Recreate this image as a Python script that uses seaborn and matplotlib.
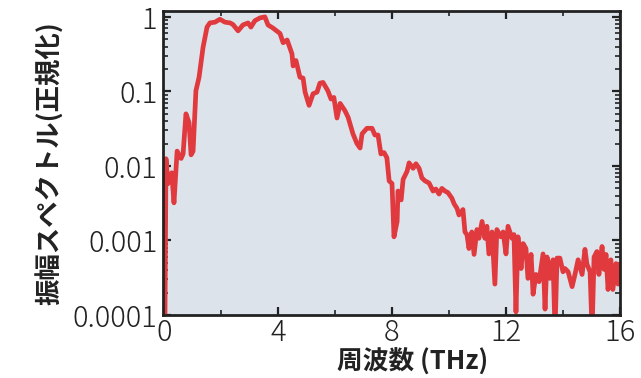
import matplotlib
matplotlib.use("Agg")
import matplotlib.pyplot as plt
import matplotlib.ticker as mticker
import numpy as np
import pandas as pd
import seaborn as sns

# frequency (THz) and normalised amplitude
freq_thz = [
    0.03, 0.07, 0.14, 0.27, 0.35, 0.46, 0.60, 0.67, 0.77, 0.88, 0.95, 1.02,
    1.12, 1.23, 1.37, 1.51, 1.61, 1.79, 1.96, 2.14, 2.32, 2.42, 2.60, 2.77,
    2.95, 3.05, 3.19, 3.37, 3.54, 3.65, 3.82, 4.07, 4.18, 4.32, 4.49, 4.53,
    4.63, 4.77, 4.88, 4.95, 5.09, 5.23, 5.37, 5.47, 5.58, 5.75, 5.86, 5.96,
    6.07, 6.18, 6.35, 6.46, 6.63, 6.77, 6.88, 6.95, 7.12, 7.30, 7.40, 7.51,
    7.61, 7.72, 7.82, 7.90, 8.00, 8.07, 8.18, 8.21, 8.32, 8.39, 8.53, 8.60,
    8.74, 8.84, 8.95, 9.05, 9.16, 9.30, 9.44, 9.54, 9.65, 9.75, 9.86, 9.96,
    10.10, 10.18, 10.28, 10.35, 10.49, 10.56, 10.63, 10.70, 10.80, 10.88,
    10.98, 11.05, 11.16, 11.26, 11.33, 11.40, 11.51, 11.61, 11.68, 11.82,
    11.90, 12.00, 12.07, 12.21, 12.28, 12.35, 12.42, 12.53, 12.60, 12.70,
    12.77, 12.88, 12.95, 13.05, 13.16, 13.30, 13.37, 13.44, 13.54, 13.65,
    13.72, 13.79, 13.89, 14.00, 14.07, 14.18, 14.32, 14.42, 14.53, 14.67,
    14.77, 14.84, 14.95, 15.02, 15.09, 15.19, 15.26, 15.37, 15.44, 15.51,
    15.58, 15.68, 15.75, 15.86, 15.93, 15.96,
]
amplitude = [
    0.00005, 0.0125, 0.0058, 0.0081, 0.0032, 0.0158, 0.0126, 0.0145, 0.050,
    0.038, 0.0141, 0.0158, 0.102, 0.155, 0.39, 0.73, 0.83, 0.85, 0.93, 0.85,
    0.83, 0.79, 0.65, 0.78, 0.83, 0.73, 0.89, 0.97, 1.0, 0.78, 0.71, 0.60,
    0.45, 0.49, 0.32, 0.22, 0.26, 0.155, 0.151, 0.098, 0.065, 0.093, 0.098,
    0.129, 0.132, 0.102, 0.079, 0.083, 0.044, 0.069, 0.055, 0.045, 0.027,
    0.020, 0.0174, 0.027, 0.032, 0.032, 0.026, 0.026, 0.0145, 0.0151, 0.0129,
    0.0063, 0.0058, 0.00112, 0.0018, 0.0046, 0.0035, 0.0066, 0.0085, 0.011,
    0.0093, 0.0107, 0.0093, 0.0069, 0.0063, 0.0059, 0.0046, 0.0049, 0.0042,
    0.0050, 0.0046, 0.0044, 0.0037, 0.0031, 0.0027, 0.0022, 0.0026, 0.0013,
    0.0012, 0.00078, 0.0013, 0.00065, 0.0014, 0.00107, 0.0018, 0.00107,
    0.00155, 0.00066, 0.0013, 0.00026, 0.0014, 0.00112, 0.0013, 0.00066,
    0.00155, 0.00107, 0.0012, 0.00011, 0.00112, 0.00042, 0.00091, 0.00078,
    0.00031, 0.00065, 0.00019, 0.00035, 0.00028, 0.00066, 0.00012, 0.0006,
    0.00031, 0.00055, 0.00006, 0.00058, 0.00058, 0.00038, 0.00042, 0.00038,
    0.00024, 0.00035, 0.00055, 0.00035, 0.00076, 0.00048, 0.00038, 0.00006,
    0.0006, 0.00071, 0.00035, 0.00083, 0.00041, 0.00065, 0.00022, 0.00055,
    0.00022, 0.00049, 0.00026, 0.00048,
]

x_ticks = [0, 4, 8, 12, 16]
y_ticks = [1e-4, 1e-3, 1e-2, 1e-1, 1]
y_tick_labels = ["0.0001", "0.001", "0.01", "0.1", "1"]

LINE_COLOR = "#e03a3f"
BG_COLOR = "#dce3ea"
INK = "#222222"

sns.set_style("ticks")
plt.rcParams["font.family"] = ["Noto Sans CJK JP", "DejaVu Sans"]

df = pd.DataFrame({"freq": freq_thz, "amp": amplitude})

fig = plt.figure(figsize=(6.41, 3.78), dpi=100)
ax = fig.add_axes([163 / 641, 1 - 315 / 378, (620 - 163) / 641, (315 - 11) / 378])
ax.set_facecolor(BG_COLOR)

sns.lineplot(data=df, x="freq", y="amp", color=LINE_COLOR, linewidth=3.4, ax=ax,
             sort=False, estimator=None)

ax.set_yscale("log")
ax.set_xlim(-0.035, 16)
ax.set_ylim(1e-4, 1.2)

ax.set_xticks(x_ticks)
ax.set_xticklabels([str(t) for t in x_ticks])
ax.xaxis.set_minor_locator(mticker.FixedLocator([2, 6, 10, 14]))
ax.set_yticks(y_ticks)
ax.set_yticklabels(y_tick_labels)
ax.yaxis.set_minor_locator(mticker.LogLocator(base=10, subs=np.arange(2, 10), numticks=20))
ax.yaxis.set_minor_formatter(mticker.NullFormatter())

ax.tick_params(which="both", direction="in", top=True, right=True, color=INK,
               labelsize=21, labelcolor=INK, pad=4)
ax.tick_params(axis="x", which="major", pad=2)
ax.tick_params(which="major", length=6, width=1.6)
ax.tick_params(which="minor", length=3.5, width=1.2)
for lab in ax.get_xticklabels() + ax.get_yticklabels():
    lab.set_fontweight("light")

for side in ax.spines.values():
    side.set_linewidth(2.0)
    side.set_color(INK)

ax.set_xlabel("周波数 (THz)", fontsize=18.5, fontweight="bold", color=INK, x=0.547, labelpad=0)
ax.set_ylabel("振幅スペクトル(正規化)", fontsize=19, fontweight="bold", color=INK, labelpad=6)

fig.savefig("out.png", dpi=100)
plt.close(fig)
